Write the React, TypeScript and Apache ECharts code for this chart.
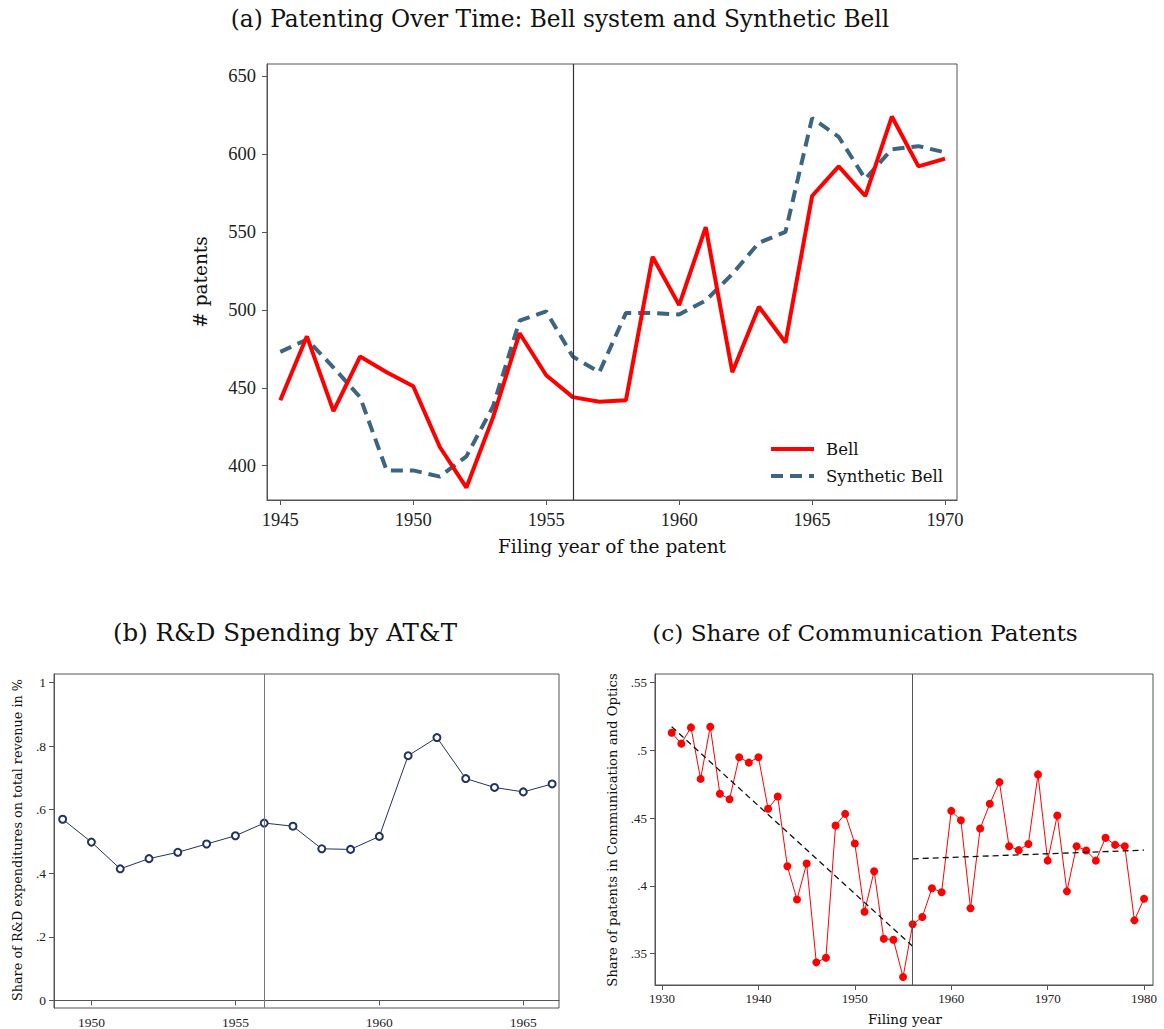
import React, { useEffect, useRef } from "react";
import * as echarts from "echarts";

// ---------- Panel (a) data ----------
const aYears = [1945, 1946, 1947, 1948, 1949, 1950, 1951, 1952, 1953, 1954, 1955, 1956, 1957, 1958, 1959, 1960, 1961, 1962, 1963, 1964, 1965, 1966, 1967, 1968, 1969, 1970];
const bellValues = [442, 483, 435, 470, 460, 451, 412, 386, 431, 485, 458, 444, 441, 442, 534, 503, 553, 460, 502, 479, 573, 592, 573, 624, 592, 597];
const synthValues = [473, 481, 463, 444, 397, 397, 393, 406, 438, 493, 499, 470, 460, 498, 498, 497, 506, 523, 543, 550, 623, 611, 584, 603, 605, 601];
const aXTicks = [1945, 1950, 1955, 1960, 1965, 1970];
const aYTicks = [400, 450, 500, 550, 600, 650];

// ---------- Panel (b) data ----------
const bYears = [1949, 1950, 1951, 1952, 1953, 1954, 1955, 1956, 1957, 1958, 1959, 1960, 1961, 1962, 1963, 1964, 1965, 1966];
const rdShare = [0.570, 0.498, 0.414, 0.446, 0.466, 0.492, 0.518, 0.558, 0.548, 0.477, 0.475, 0.516, 0.770, 0.827, 0.698, 0.670, 0.656, 0.681];
const bXTicks = [1950, 1955, 1960, 1965];
const bYTicks = [0, 0.2, 0.4, 0.6, 0.8, 1];

// ---------- Panel (c) data ----------
const cYears = [1931, 1932, 1933, 1934, 1935, 1936, 1937, 1938, 1939, 1940, 1941, 1942, 1943, 1944, 1945, 1946, 1947, 1948, 1949, 1950, 1951, 1952, 1953, 1954, 1955, 1956, 1957, 1958, 1959, 1960, 1961, 1962, 1963, 1964, 1965, 1966, 1967, 1968, 1969, 1970, 1971, 1972, 1973, 1974, 1975, 1976, 1977, 1978, 1979, 1980];
const commShare = [0.513, 0.505, 0.517, 0.479, 0.5175, 0.468, 0.464, 0.495, 0.491, 0.495, 0.457, 0.466, 0.4145, 0.390, 0.4165, 0.3436, 0.347, 0.4446, 0.4532, 0.4313, 0.381, 0.4108, 0.361, 0.3603, 0.3328, 0.3717, 0.3771, 0.3983, 0.3953, 0.4554, 0.4485, 0.3835, 0.4424, 0.4606, 0.4766, 0.4293, 0.4264, 0.431, 0.4823, 0.4187, 0.452, 0.396, 0.4293, 0.4261, 0.4187, 0.4355, 0.4303, 0.4293, 0.3746, 0.3906];
const trendPreYears = [1931, 1956];
const trendPreValues = [0.5175, 0.3554];
const trendPostYears = [1956, 1980];
const trendPostValues = [0.42, 0.4264];
const cXTicks = [1930, 1940, 1950, 1960, 1970, 1980];
const cYTicks = [0.35, 0.4, 0.45, 0.5, 0.55];

const breakYear = 1956;

const SERIF = "'Liberation Serif', 'DejaVu Serif', serif";
const WIDE_SERIF = "'DejaVu Serif', 'Liberation Serif', serif";
const FRAME = "#555555";

const fmtShare = (v: number) => {
  if (Math.abs(v) < 1e-9) return "0";
  if (Math.abs(v - 1) < 1e-9) return "1";
  return String(Math.round(v * 1000) / 1000).replace(/^0/, "");
};

function makeXAxis(gridIndex: number, min: number, max: number, ticks: number[], fontSize: number, margin: number) {
  return {
    type: "value",
    gridIndex,
    min,
    max,
    axisLine: { show: true, lineStyle: { color: FRAME, width: 1 } },
    axisTick: { show: true, length: 5, inside: false, lineStyle: { color: FRAME }, customValues: ticks },
    axisLabel: { show: true, customValues: ticks, fontFamily: SERIF, fontSize, color: "#222", margin, formatter: (v: number) => String(v) },
    splitLine: { show: false },
  };
}

function makeYAxis(gridIndex: number, min: number, max: number, ticks: number[], fontSize: number, margin: number, fmt?: (v: number) => string) {
  return {
    type: "value",
    gridIndex,
    min,
    max,
    axisLine: { show: true, lineStyle: { color: FRAME, width: 1 } },
    axisTick: { show: true, length: 5, inside: false, lineStyle: { color: FRAME }, customValues: ticks },
    axisLabel: { show: true, customValues: ticks, fontFamily: SERIF, fontSize, color: "#222", margin, formatter: fmt || ((v: number) => String(v)) },
    splitLine: { show: false },
  };
}

const vline = (color: string, width: number) => ({
  symbol: "none",
  silent: true,
  label: { show: false },
  lineStyle: { color, type: "solid", width },
  data: [{ xAxis: breakYear }],
});

export default function App() {
  const ref = useRef<HTMLDivElement>(null);
  useEffect(() => {
    if (!ref.current) return;
    const chart = echarts.init(ref.current, undefined, { renderer: "svg" });
    const option: any = {
      animation: false,
      backgroundColor: "#ffffff",
      grid: [
        { left: 267, top: 64, width: 690, height: 436, show: true, borderColor: FRAME, borderWidth: 1, backgroundColor: "#fff" },
        { left: 54, top: 674, width: 505, height: 335, show: true, borderColor: FRAME, borderWidth: 1, backgroundColor: "#fff" },
        { left: 655, top: 674, width: 498, height: 311, show: true, borderColor: FRAME, borderWidth: 1, backgroundColor: "#fff" },
      ],
      xAxis: [
        makeXAxis(0, 1944.5, 1970.45, aXTicks, 18.5, 10),
        makeXAxis(1, 1948.7, 1966.24, bXTicks, 13.5, 7),
        makeXAxis(2, 1929.27, 1980.93, cXTicks, 13, 7),
      ],
      yAxis: [
        makeYAxis(0, 378, 657.7, aYTicks, 18.5, 11),
        makeYAxis(1, -0.024, 1.027, bYTicks, 13.5, 8, fmtShare),
        makeYAxis(2, 0.3269, 0.5564, cYTicks, 13, 8, fmtShare),
      ],
      series: [
        {
          type: "line",
          name: "Bell",
          xAxisIndex: 0,
          yAxisIndex: 0,
          data: aYears.map((y, i) => [y, bellValues[i]]),
          symbol: "none",
          lineStyle: { color: "#ff0000", width: 4 },
          z: 3,
          markLine: vline("#333333", 1.2),
        },
        {
          type: "line",
          name: "Synthetic Bell",
          xAxisIndex: 0,
          yAxisIndex: 0,
          data: aYears.map((y, i) => [y, synthValues[i]]),
          symbol: "none",
          lineStyle: { color: "#3f6480", width: 4, type: [12, 7] },
          z: 2,
        },
        {
          type: "line",
          xAxisIndex: 1,
          yAxisIndex: 1,
          data: bYears.map((y, i) => [y, rdShare[i]]),
          symbol: "emptyCircle",
          symbolSize: 7,
          lineStyle: { color: "#24335e", width: 1 },
          itemStyle: { color: "#24335e", borderWidth: 1 },
          markLine: vline("#777777", 1),
        },
        {
          type: "line",
          xAxisIndex: 2,
          yAxisIndex: 2,
          data: cYears.map((y, i) => [y, commShare[i]]),
          symbol: "circle",
          symbolSize: 8,
          lineStyle: { color: "#ff0000", width: 1 },
          itemStyle: { color: "#ff0000" },
          markLine: vline("#555555", 1),
          z: 3,
        },
        {
          type: "line",
          xAxisIndex: 2,
          yAxisIndex: 2,
          data: trendPreYears.map((y, i) => [y, trendPreValues[i]]),
          symbol: "none",
          lineStyle: { color: "#111", width: 1.3, type: [6, 4] },
          z: 4,
        },
        {
          type: "line",
          xAxisIndex: 2,
          yAxisIndex: 2,
          data: trendPostYears.map((y, i) => [y, trendPostValues[i]]),
          symbol: "none",
          lineStyle: { color: "#111", width: 1.3, type: [6, 4] },
          z: 4,
        },
      ],
      graphic: [
        { type: "text", x: 560, y: 18, style: { text: "(a) Patenting Over Time: Bell system and Synthetic Bell", fontFamily: WIDE_SERIF, fontSize: 23.3, fill: "#111", textAlign: "center", textVerticalAlign: "middle" } },
        { type: "text", x: 285, y: 632, style: { text: "(b) R&D Spending by AT&T", fontFamily: WIDE_SERIF, fontSize: 24.5, fill: "#111", textAlign: "center", textVerticalAlign: "middle" } },
        { type: "text", x: 865, y: 632, style: { text: "(c) Share of Communication Patents", fontFamily: WIDE_SERIF, fontSize: 23.2, fill: "#111", textAlign: "center", textVerticalAlign: "middle" } },
        { type: "text", x: 612, y: 546, style: { text: "Filing year of the patent", fontFamily: WIDE_SERIF, fontSize: 18.5, fill: "#111", textAlign: "center", textVerticalAlign: "middle" } },
        { type: "text", x: 200, y: 282, rotation: Math.PI / 2, style: { text: "# patents", fontFamily: WIDE_SERIF, fontSize: 18.5, fill: "#111", textAlign: "center", textVerticalAlign: "middle" } },
        { type: "text", x: 17, y: 840, rotation: Math.PI / 2, style: { text: "Share of R&D expenditures on total revenue in %", fontFamily: WIDE_SERIF, fontSize: 12.8, fill: "#111", textAlign: "center", textVerticalAlign: "middle" } },
        { type: "text", x: 612, y: 830, rotation: Math.PI / 2, style: { text: "Share of patents in Communication and Optics", fontFamily: WIDE_SERIF, fontSize: 13.2, fill: "#111", textAlign: "center", textVerticalAlign: "middle" } },
        { type: "text", x: 905, y: 1019, style: { text: "Filing year", fontFamily: WIDE_SERIF, fontSize: 13.5, fill: "#111", textAlign: "center", textVerticalAlign: "middle" } },
        // legend (a)
        { type: "line", shape: { x1: 771, y1: 449, x2: 814, y2: 449 }, style: { stroke: "#ff0000", lineWidth: 4 } },
        { type: "line", shape: { x1: 771, y1: 476, x2: 814, y2: 476 }, style: { stroke: "#3f6480", lineWidth: 4, lineDash: [12, 7] } },
        { type: "text", x: 826, y: 449, style: { text: "Bell", fontFamily: WIDE_SERIF, fontSize: 16.5, fill: "#111", textAlign: "left", textVerticalAlign: "middle" } },
        { type: "text", x: 826, y: 476, style: { text: "Synthetic Bell", fontFamily: WIDE_SERIF, fontSize: 16.5, fill: "#111", textAlign: "left", textVerticalAlign: "middle" } },
      ],
    };
    chart.setOption(option);
    return () => chart.dispose();
  }, []);
  return <div ref={ref} style={{ position: "absolute", left: 0, top: 0, width: 1164, height: 1029, background: "#fff" }} />;
}
